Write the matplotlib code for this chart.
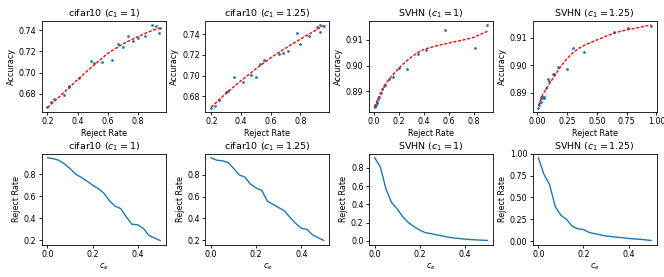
import numpy as np
import matplotlib
matplotlib.use('Agg')
import matplotlib.pyplot as plt
from matplotlib.ticker import MaxNLocator, MultipleLocator

# cost c_e values (bottom row x axis)
ce = [0.0, 0.025, 0.05, 0.075, 0.1, 0.125, 0.15, 0.175, 0.2, 0.225, 0.25,
      0.275, 0.3, 0.325, 0.35, 0.375, 0.4, 0.425, 0.45, 0.475, 0.5]

# cifar10, c1 = 1
rej_c10_a = [0.948, 0.940, 0.925, 0.893, 0.850, 0.800, 0.770, 0.737, 0.700, 0.670, 0.628,
             0.560, 0.510, 0.488, 0.412, 0.346, 0.342, 0.310, 0.245, 0.222, 0.200]
acc_c10_a = [0.742, 0.737, 0.744, 0.745, 0.735, 0.733, 0.730, 0.735, 0.724, 0.727, 0.712,
             0.710, 0.709, 0.711, 0.695, 0.687, 0.686, 0.679, 0.675, 0.672, 0.668]
fitx_c10_a = [0.2, 0.3, 0.4, 0.5, 0.6, 0.7, 0.8, 0.9, 0.95]
fity_c10_a = [0.667, 0.680, 0.6934, 0.706, 0.718, 0.727, 0.7338, 0.740, 0.742]

# cifar10, c1 = 1.25
rej_c10_b = [0.958, 0.935, 0.930, 0.915, 0.860, 0.800, 0.780, 0.715, 0.680, 0.657, 0.558,
             0.530, 0.500, 0.470, 0.410, 0.355, 0.310, 0.300, 0.250, 0.223, 0.198]
acc_c10_b = [0.7475, 0.749, 0.7426, 0.7465, 0.738, 0.731, 0.741, 0.724, 0.722, 0.721, 0.715,
             0.711, 0.699, 0.701, 0.694, 0.699, 0.685, 0.684, 0.676, 0.671, 0.669]
fitx_c10_b = [0.198, 0.3, 0.4, 0.5, 0.6, 0.7, 0.8, 0.9, 0.958]
fity_c10_b = [0.6695, 0.683, 0.695, 0.7065, 0.7172, 0.7265, 0.7352, 0.7435, 0.7485]

# SVHN, c1 = 1
rej_svhn_a = [0.912, 0.810, 0.568, 0.420, 0.350, 0.262, 0.200, 0.155, 0.118, 0.090, 0.080,
              0.066, 0.054, 0.042, 0.032, 0.026, 0.020, 0.015, 0.011, 0.008, 0.005]
acc_svhn_a = [0.9159, 0.9067, 0.9140, 0.9062, 0.9046, 0.8987, 0.8991, 0.8954, 0.8949, 0.8922, 0.8920,
              0.8906, 0.8893, 0.8878, 0.8867, 0.8858, 0.8852, 0.8847, 0.8845, 0.8840, 0.8837]
fitx_svhn_a = [0.005, 0.025, 0.05, 0.075, 0.1, 0.15, 0.2, 0.25, 0.3, 0.35, 0.4, 0.5, 0.6, 0.7, 0.8, 0.912]
fity_svhn_a = [0.8835, 0.8865, 0.8890, 0.8913, 0.8933, 0.8963, 0.8990, 0.9013, 0.9033, 0.9050,
               0.9063, 0.9077, 0.9088, 0.9098, 0.9110, 0.9134]

# SVHN, c1 = 1.25
rej_svhn_b = [0.955, 0.765, 0.645, 0.395, 0.295, 0.250, 0.170, 0.142, 0.133, 0.100, 0.086,
              0.072, 0.058, 0.053, 0.045, 0.039, 0.031, 0.026, 0.022, 0.015, 0.008]
acc_svhn_b = [0.9143, 0.9134, 0.9122, 0.9047, 0.9061, 0.8986, 0.8994, 0.8968, 0.8968, 0.8944, 0.8950,
              0.8918, 0.8882, 0.8879, 0.8885, 0.8879, 0.8885, 0.8867, 0.8867, 0.8855, 0.8845]
fitx_svhn_b = [0.008, 0.05, 0.1, 0.15, 0.2, 0.25, 0.3, 0.35, 0.4, 0.5, 0.6, 0.7, 0.8, 0.955]
fity_svhn_b = [0.8852, 0.8897, 0.8932, 0.8965, 0.8998, 0.9025, 0.9046, 0.9062, 0.9074, 0.9092,
               0.9110, 0.9124, 0.9133, 0.9147]

titles = ["cifar10 ($c_1=1$)", "cifar10 ($c_1=1.25$)", "SVHN ($c_1=1$)", "SVHN ($c_1=1.25$)"]
rejects = [rej_c10_a, rej_c10_b, rej_svhn_a, rej_svhn_b]
accs = [acc_c10_a, acc_c10_b, acc_svhn_a, acc_svhn_b]
fitxs = [fitx_c10_a, fitx_c10_b, fitx_svhn_a, fitx_svhn_b]
fitys = [fity_c10_a, fity_c10_b, fity_svhn_a, fity_svhn_b]

# small figure, so shrink everything
plt.rcParams.update({
    'font.size': 5.8,
    'axes.titlesize': 6.8,
    'axes.titlepad': 3,
    'axes.labelpad': 2,
    'axes.linewidth': 0.6,
    'xtick.major.size': 2.2,
    'ytick.major.size': 2.2,
    'xtick.major.width': 0.6,
    'ytick.major.width': 0.6,
    'xtick.major.pad': 1.8,
    'ytick.major.pad': 1.8,
    'lines.linewidth': 1.0,
})

fig, axes = plt.subplots(2, 4, figsize=(6.64, 2.77))
for i in range(4):
    ax = axes[0, i]
    ax.scatter(rejects[i], accs[i], s=4, linewidths=0)
    ax.plot(fitxs[i], fitys[i], 'r--', dashes=(2.2, 1.2))
    ax.set_title(titles[i])
    ax.set_xlabel('Reject Rate')
    ax.set_ylabel('Accuracy')

    ax = axes[1, i]
    ax.plot(ce, rejects[i])
    ax.set_title(titles[i])
    ax.set_xlabel('$c_e$')
    ax.set_ylabel('Reject Rate')

# same tick density as the original
for ax in axes.flat:
    ax.xaxis.set_major_locator(MaxNLocator(nbins=5, steps=[1, 2, 2.5, 5, 10]))
    ax.yaxis.set_major_locator(MaxNLocator(nbins=5, steps=[1, 2, 2.5, 5, 10]))
# last panel uses quarter steps on its y axis
axes[1, 3].yaxis.set_major_locator(MultipleLocator(0.25))

plt.subplots_adjust(left=0.063, right=0.989, top=0.925, bottom=0.117, wspace=0.32, hspace=0.46)
plt.savefig('out.png', dpi=100)
